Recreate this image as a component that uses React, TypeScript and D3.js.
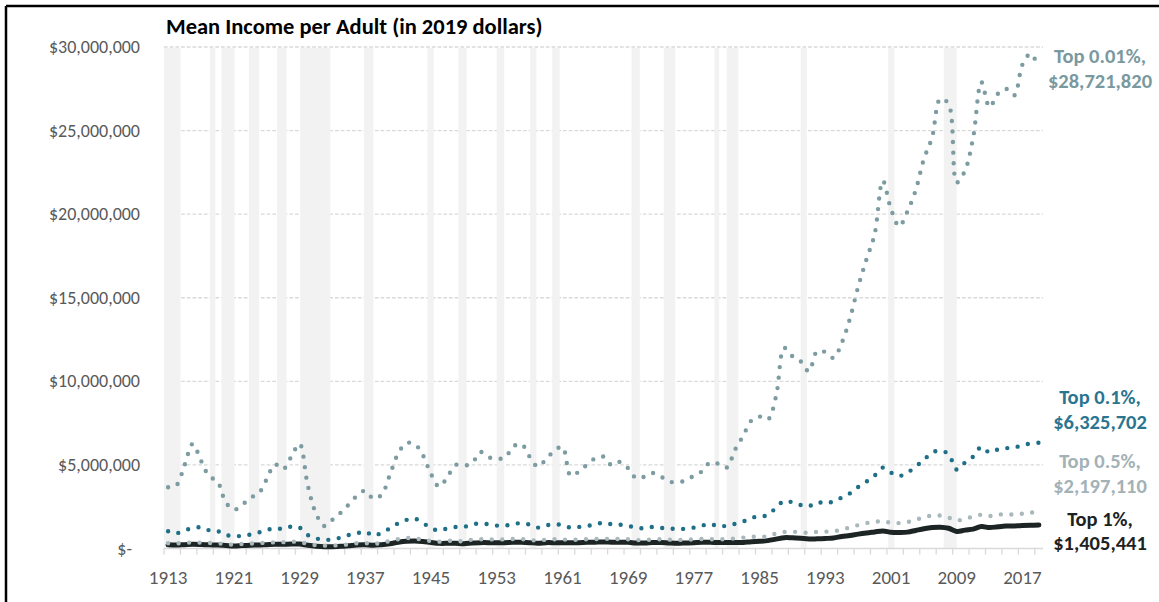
import { useEffect, useRef } from 'react';
import { select, scaleLinear, line, curveCatmullRom, format } from 'd3';

// yearly values 1913..2019, in millions of 2019 dollars
const firstYear = 1913;
const lastYear = 2019;

const top001 = [
  3.66, 3.78, 4.98, 6.26, 5.26, 4.32, 4.02, 2.78, 2.32, 2.6,
  3.04, 3.28, 4.14, 5.04, 4.74, 5.5, 6.26, 3.78, 2.1, 1.35,
  1.72, 2.14, 2.64, 3.16, 3.46, 2.98, 3.22, 4.42, 5.68, 6.3,
  6.25, 5.6, 4.46, 3.7, 4.28, 5.0, 4.96, 5.1, 5.78, 5.46,
  5.38, 5.42, 6.1, 6.25, 5.5, 4.9, 5.34, 5.84, 6.08, 4.35,
  4.6, 5.02, 5.4, 5.5, 4.98, 5.18, 4.8, 4.2, 4.3, 4.52,
  4.3, 4.0, 3.98, 4.06, 4.36, 4.62, 5.16, 5.06, 4.84, 5.9,
  6.74, 7.65, 7.89, 7.71, 9.1, 12.0, 11.5, 11.2, 10.6, 11.8,
  11.75, 11.4, 12.3, 13.76, 15.66, 17.28, 18.79, 22.0, 20.3, 19.27,
  20.17, 21.43, 23.3, 24.6, 26.9, 26.6, 21.9, 22.6, 24.6, 27.9,
  26.4, 27.2, 27.5, 27.1, 28.95, 29.6, 28.72182
];

const top01 = [
  1.03, 0.91, 1.09, 1.21, 1.27, 1.09, 1.05, 0.81, 0.75, 0.75,
  0.83, 0.95, 1.11, 1.21, 1.17, 1.31, 1.25, 0.81, 0.61, 0.51,
  0.55, 0.65, 0.81, 0.91, 1.01, 0.77, 0.95, 1.21, 1.51, 1.71,
  1.79, 1.53, 1.23, 1.07, 1.21, 1.29, 1.29, 1.45, 1.49, 1.45,
  1.37, 1.37, 1.47, 1.51, 1.43, 1.25, 1.39, 1.43, 1.41, 1.25,
  1.29, 1.35, 1.43, 1.55, 1.45, 1.43, 1.35, 1.25, 1.21, 1.29,
  1.23, 1.21, 1.15, 1.19, 1.25, 1.37, 1.47, 1.31, 1.37, 1.47,
  1.61, 1.83, 1.93, 1.99, 2.45, 2.84, 2.76, 2.6, 2.53, 2.77,
  2.7, 2.82, 3.05, 3.3, 3.68, 4.0, 4.36, 4.84, 4.54, 4.34,
  4.54, 4.9, 5.3, 5.74, 5.85, 5.65, 4.72, 5.14, 5.5, 6.08,
  5.74, 5.92, 6.0, 6.04, 6.18, 6.28, 6.325702
];

const top05 = [
  0.31, 0.31, 0.34, 0.36, 0.35, 0.33, 0.31, 0.26, 0.23, 0.27,
  0.29, 0.32, 0.35, 0.37, 0.38, 0.4, 0.41, 0.27, 0.2, 0.17,
  0.18, 0.2, 0.25, 0.32, 0.32, 0.27, 0.35, 0.45, 0.56, 0.63,
  0.6, 0.53, 0.45, 0.41, 0.45, 0.47, 0.42, 0.53, 0.55, 0.55,
  0.54, 0.55, 0.57, 0.56, 0.53, 0.46, 0.53, 0.55, 0.54, 0.52,
  0.53, 0.56, 0.57, 0.58, 0.57, 0.57, 0.55, 0.51, 0.5, 0.55,
  0.55, 0.53, 0.51, 0.53, 0.55, 0.57, 0.56, 0.55, 0.57, 0.6,
  0.65, 0.7, 0.71, 0.72, 0.9, 0.99, 1.0, 0.98, 0.93, 1.0,
  1.01, 1.03, 1.12, 1.27, 1.4, 1.52, 1.58, 1.65, 1.53, 1.52,
  1.58, 1.71, 1.88, 1.96, 1.97, 1.85, 1.67, 1.8, 1.9, 2.02,
  1.94, 2.03, 2.04, 2.04, 2.08, 2.14, 2.19711
];

const top1 = [
  0.22, 0.21, 0.23, 0.25, 0.24, 0.22, 0.21, 0.18, 0.15, 0.18,
  0.2, 0.21, 0.23, 0.25, 0.25, 0.27, 0.27, 0.19, 0.13, 0.1,
  0.11, 0.13, 0.17, 0.21, 0.22, 0.19, 0.23, 0.29, 0.37, 0.43,
  0.45, 0.42, 0.36, 0.31, 0.31, 0.32, 0.29, 0.33, 0.35, 0.35,
  0.34, 0.35, 0.37, 0.37, 0.35, 0.32, 0.35, 0.35, 0.35, 0.34,
  0.35, 0.37, 0.38, 0.39, 0.38, 0.38, 0.37, 0.33, 0.33, 0.36,
  0.36, 0.33, 0.31, 0.33, 0.35, 0.37, 0.37, 0.36, 0.36, 0.36,
  0.36, 0.41, 0.43, 0.47, 0.56, 0.65, 0.64, 0.61, 0.57, 0.58,
  0.6, 0.63, 0.72, 0.78, 0.86, 0.93, 0.99, 1.05, 0.97, 0.96,
  0.98, 1.08, 1.18, 1.25, 1.27, 1.21, 1.02, 1.1, 1.16, 1.31,
  1.25, 1.3, 1.34, 1.35, 1.37, 1.39, 1.405441
];

// NBER recessions: [start year, start month, end year, end month]
const recessions = [
  [1913, 1, 1914, 12], [1918, 8, 1919, 3], [1920, 1, 1921, 7],
  [1923, 5, 1924, 7], [1926, 10, 1927, 11], [1929, 8, 1933, 3],
  [1937, 5, 1938, 6], [1945, 2, 1945, 10], [1948, 11, 1949, 10],
  [1953, 7, 1954, 5], [1957, 8, 1958, 4], [1960, 4, 1961, 2],
  [1969, 12, 1970, 11], [1973, 11, 1975, 3], [1980, 1, 1980, 7],
  [1981, 7, 1982, 11], [1990, 7, 1991, 3], [2001, 3, 2001, 11],
  [2007, 12, 2009, 6]
];

const yTicks = [0, 5e6, 10e6, 15e6, 20e6, 25e6, 30e6];
const xLabelYears = [1913, 1921, 1929, 1937, 1945, 1953, 1961, 1969, 1977, 1985, 1993, 2001, 2009, 2017];

const series = [
  { name: 'Top 1%,', label: '$1,405,441', values: top1, color: '#1c2424', dotted: false, labelColor: '#1c2222' },
  { name: 'Top 0.5%,', label: '$2,197,110', values: top05, color: '#a9b8bc', dotted: true, labelColor: '#a3b2b6' },
  { name: 'Top 0.1%,', label: '$6,325,702', values: top01, color: '#1f6f88', dotted: true, labelColor: '#2a7590' },
  { name: 'Top 0.01%,', label: '$28,721,820', values: top001, color: '#7d9ca2', dotted: true, labelColor: '#7a999f' }
];

// first-line baselines of the right-hand labels
const labelTop = { 'Top 1%,': 525.5, 'Top 0.5%,': 468, 'Top 0.1%,': 404, 'Top 0.01%,': 63 };

const FONT = 'Carlito, Calibri, Lato, sans-serif';

const App = () => {
  const svgRef = useRef<SVGSVGElement>(null);

  useEffect(() => {
    const svg = select(svgRef.current);
    svg.selectAll('*').remove();

    const left = 164;
    const right = 1043;
    const xScale = scaleLinear().domain([firstYear, lastYear + 1]).range([left, right]);
    const yScale = scaleLinear().domain([0, 30e6]).range([548.5, 47]);

    // frame
    svg.append('line').attr('x1', 6).attr('x2', 1159).attr('y1', 6).attr('y2', 6)
      .attr('stroke', '#000').attr('stroke-width', 2.5);
    svg.append('line').attr('x1', 6).attr('x2', 6).attr('y1', 6).attr('y2', 602)
      .attr('stroke', '#000').attr('stroke-width', 2.5);

    // gridlines
    svg.append('g').selectAll('line')
      .data(yTicks.filter((t) => t > 0))
      .join('line')
      .attr('x1', left).attr('x2', right)
      .attr('y1', (d) => yScale(d)).attr('y2', (d) => yScale(d))
      .attr('stroke', '#d9d9d9').attr('stroke-width', 1.3)
      .attr('stroke-dasharray', '3.7 2');

    // recession shading
    svg.append('g').selectAll('rect')
      .data(recessions)
      .join('rect')
      .attr('x', (r) => xScale(r[0] + (r[1] - 1) / 12))
      .attr('width', (r) => xScale(r[2] + r[3] / 12) - xScale(r[0] + (r[1] - 1) / 12))
      .attr('y', yScale(30e6) + 1)
      .attr('height', yScale(0) - yScale(30e6) - 1)
      .attr('fill', '#f2f2f2');

    // x axis
    const ticks: number[] = [];
    for (let yr = firstYear; yr <= lastYear; yr += 2) ticks.push(yr);
    const xAxis = svg.append('g');
    xAxis.append('line').attr('x1', left).attr('x2', right)
      .attr('y1', yScale(0)).attr('y2', yScale(0))
      .attr('stroke', '#d9d9d9').attr('stroke-width', 1.5);
    xAxis.selectAll('line.tick')
      .data(ticks)
      .join('line')
      .attr('class', 'tick')
      .attr('x1', (d) => xScale(d)).attr('x2', (d) => xScale(d))
      .attr('y1', yScale(0)).attr('y2', yScale(0) + 6)
      .attr('stroke', '#d9d9d9').attr('stroke-width', 1.3);
    xAxis.selectAll('text')
      .data(xLabelYears)
      .join('text')
      .attr('x', (d) => xScale(d + 0.5))
      .attr('y', 584)
      .attr('text-anchor', 'middle')
      .attr('font-family', FONT).attr('font-size', 19)
      .attr('fill', '#595959')
      .text((d) => d);

    // y labels
    const money = format(',');
    svg.append('g').selectAll('text')
      .data(yTicks)
      .join('text')
      .attr('x', (d) => (d === 0 ? 132 : 140))
      .attr('y', (d) => yScale(d) + 6)
      .attr('text-anchor', 'end')
      .attr('font-family', FONT).attr('font-size', 18)
      .attr('fill', '#595959')
      .text((d) => (d === 0 ? '$-' : '$' + money(d)));

    // series
    const lineGen = line<number>()
      .x((_, i) => xScale(firstYear + i + 0.5))
      .y((d) => yScale(d * 1e6))
      .curve(curveCatmullRom);

    svg.append('g').selectAll('path')
      .data(series)
      .join('path')
      .attr('d', (s) => lineGen(s.values))
      .attr('fill', 'none')
      .attr('stroke', (s) => s.color)
      .attr('stroke-width', (s) => (s.dotted ? 4.4 : 5))
      .attr('stroke-linecap', 'round')
      .attr('stroke-linejoin', 'round')
      .attr('stroke-dasharray', (s) => (s.dotted ? '0 10.5' : null));

    // end labels
    const labels = svg.append('g').selectAll('text')
      .data(series)
      .join('text')
      .attr('text-anchor', 'middle')
      .attr('font-family', FONT).attr('font-size', 20.5).attr('font-weight', 'bold')
      .attr('fill', (s) => s.labelColor);
    labels.append('tspan').attr('x', 1100).attr('y', (s) => labelTop[s.name]).text((s) => s.name);
    labels.append('tspan').attr('x', 1100).attr('y', (s) => labelTop[s.name] + 24.5).text((s) => s.label);

    // title
    svg.append('text')
      .attr('x', 166).attr('y', 34)
      .attr('font-family', FONT).attr('font-size', 22.5).attr('font-weight', 'bold')
      .attr('fill', '#000')
      .text('Mean Income per Adult (in 2019 dollars)');
  }, []);

  return (
    <svg
      ref={svgRef}
      width={1159}
      height={602}
      style={{ position: 'absolute', left: 0, top: 0, background: '#fff' }}
    />
  );
};

export default App;
